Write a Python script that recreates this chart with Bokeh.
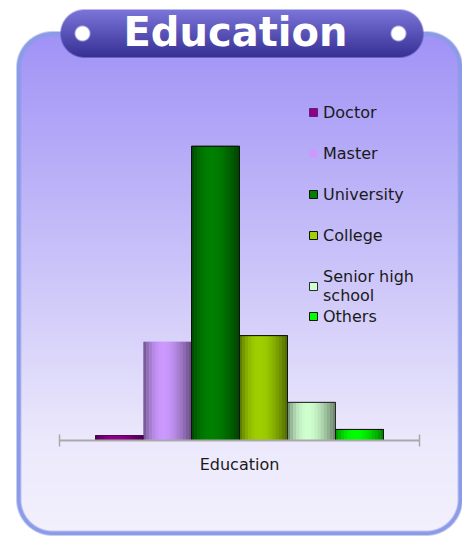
import numpy as np
from bokeh.plotting import figure
from bokeh.models import (Range1d, LinearAxis, FixedTicker, Legend, LegendItem,
                          Label, ColumnDataSource)
from bokeh.embed import file_html
from bokeh.resources import INLINE

# ---------------- data ----------------
categories = ["Doctor", "Master", "University", "College", "Senior high school", "Others"]
legend_labels = ["Doctor", "Master", "University", "College", "Senior high\nschool", "Others"]
shares = [0.9, 17.9, 53.3, 19.0, 6.9, 2.0]
bar_colors = ["#8c008c", "#cc99ff", "#008000", "#a0d000", "#d0ffd0", "#00ff00"]
outline_colors = ["#3a003a", "#6a5890", "#111111", "#111111", "#2a2a2a", "#111111"]
outline_alpha = [0.6, 0.0, 1.0, 1.0, 1.0, 1.0]
axis_title = "Education"
chart_title = "Education"

# ---------------- layout (pixels) ----------------
W, H = 462, 536
AXIS_PY = 440          # pixel row of the value axis baseline
BAR_PX = 48            # bar width in pixels
FIRST_BAR_PX = 119     # centre of first bar
PX_PER_UNIT = 5.52     # vertical pixels per percent
AXIS_PAD = 0.75        # axis extension beyond bars (bar widths)
N_STRIPS = 16

x0 = -FIRST_BAR_PX / BAR_PX
x1 = (W - FIRST_BAR_PX) / BAR_PX
y0 = -(H - AXIS_PY) / PX_PER_UNIT
y1 = AXIS_PY / PX_PER_UNIT

p = figure(width=W, height=H, output_backend="svg", toolbar_location=None,
           x_range=Range1d(x0, x1), y_range=Range1d(y0, y1),
           x_axis_location=None, y_axis_location=None, min_border=0)
p.outline_line_color = None
p.grid.visible = False

# ---------------- decorative background (panel + title pill) ----------------
def rr_sdf(px, py, bx0, by0, bx1, by1, r):
    cx, cy = (bx0 + bx1) / 2, (by0 + by1) / 2
    hw, hh = (bx1 - bx0) / 2, (by1 - by0) / 2
    qx = np.abs(px - cx) - (hw - r)
    qy = np.abs(py - cy) - (hh - r)
    outside = np.hypot(np.maximum(qx, 0), np.maximum(qy, 0))
    inside = np.minimum(np.maximum(qx, qy), 0)
    return outside + inside - r

yy, xx = np.mgrid[0:H, 0:W].astype(float) + 0.5
img = np.ones((H, W, 3)) * 255.0

def over(img, color, alpha):
    a = alpha[..., None]
    return img * (1 - a) + color * a

# panel
d = rr_sdf(xx, yy, 16, 31, 462, 535, 36)
a_outer = np.clip(0.5 - d, 0, 1)
a_inner = np.clip(0.5 - (d + 4.5), 0, 1)
img = over(img, np.array([140, 155, 232.0]), a_outer)
top_c = np.array([161, 148, 246.0]); mid_c = np.array([236, 233, 252.0]); bot_c = np.array([243, 241, 253.0])
t = np.clip((yy - 40) / 400, 0, 1)[..., None]
t2 = np.clip((yy - 440) / 95, 0, 1)[..., None]
grad = np.where(yy[..., None] < 440, top_c + (mid_c - top_c) * t, mid_c + (bot_c - mid_c) * t2)
img = over(img, grad, a_inner)

# title pill
d = rr_sdf(xx, yy, 60, 9, 423, 57, 24)
a_p = np.clip(0.5 - d, 0, 1)
tp = np.clip((yy - 9) / 48, 0, 1)[..., None]
pill_top = np.array([124, 118, 219.0]); pill_bot = np.array([54, 48, 148.0])
img = over(img, pill_top + (pill_bot - pill_top) * tp, a_p)
for cx in (82, 398):
    dd = np.hypot(xx - cx, yy - 33) - 7.5
    img = over(img, np.array([255, 255, 255.0]), np.clip(0.5 - dd, 0, 1))

rgba = np.empty((H, W), dtype=np.uint32)
view = rgba.view(dtype=np.uint8).reshape((H, W, 4))
view[..., :3] = np.clip(img, 0, 255).astype(np.uint8)
view[..., 3] = 255
p.image_rgba(image=[rgba[::-1]], x=x0, y=y0, dw=x1 - x0, dh=y1 - y0)

# ---------------- bars ----------------
xs = list(range(len(categories)))
base_src = ColumnDataSource(dict(x=xs, top=shares, cat=categories, fill=bar_colors,
                                 line=outline_colors, la=outline_alpha))
base = p.vbar(x="x", top="top", bottom=0, width=1, source=base_src,
              fill_color="fill", line_color="line", line_alpha="la", line_width=1)

def hex2rgb(h):
    h = h.lstrip("#")
    return np.array([int(h[i:i + 2], 16) for i in (0, 2, 4)], dtype=float)

sx, stop, scol = [], [], []
for i, (v, c) in enumerate(zip(shares, bar_colors)):
    rgb = hex2rgb(c)
    for j in range(N_STRIPS):
        tt = (j + 0.5) / N_STRIPS
        f = 0.5 + 0.5 * np.sin(np.pi * tt ** 0.8)
        col = np.clip(rgb * f, 0, 255).astype(int)
        sx.append(i - 0.5 + tt)
        stop.append(v)
        scol.append("#%02x%02x%02x" % tuple(col))
strip_src = ColumnDataSource(dict(x=sx, top=stop, c=scol))
p.vbar(x="x", top="top", bottom=0, width=1.08 / N_STRIPS, source=strip_src,
       fill_color="c", line_color=None)
p.vbar(x="x", top="top", bottom=0, width=1, source=base_src,
       fill_color=None, line_color="line", line_alpha="la", line_width=1)

# ---------------- axis ----------------
lo, hi = -0.5 - AXIS_PAD, len(categories) - 0.5 + AXIS_PAD
ax = LinearAxis(fixed_location=0, bounds=(lo, hi), ticker=FixedTicker(ticks=[lo, hi]),
                axis_label=axis_title)
ax.major_label_overrides = {lo: "", hi: ""}
ax.major_label_standoff = 0
ax.minor_tick_line_color = None
ax.major_tick_in = 6
ax.major_tick_out = 6
ax.axis_line_color = "#a9a9a9"
ax.axis_line_width = 2
ax.major_tick_line_color = "#a9a9a9"
ax.major_tick_line_width = 1.5
ax.axis_label_text_font = "DejaVu Sans"
ax.axis_label_text_font_size = "16px"
ax.axis_label_text_font_style = "normal"
ax.axis_label_text_color = "#1a1a1a"
ax.axis_label_standoff = 8
p.add_layout(ax, "below")

# ---------------- legends ----------------
def make_legend(idx):
    items = [LegendItem(label=legend_labels[i], renderers=[base], index=i) for i in idx]
    lg = Legend(items=items, padding=0, margin=0, spacing=21, label_standoff=5,
                glyph_width=10, glyph_height=10, label_height=20,
                label_text_font="DejaVu Sans", label_text_font_size="16px",
                label_text_color="#1a1a1a", border_line_color=None,
                background_fill_alpha=0, click_policy="none")
    return lg

lgA = make_legend([0, 1, 2, 3])
lgA.location = (308, H - (102 + 4 * 20 + 3 * 21))
lgB = make_legend([4])
lgB.location = (308, H - (265 + 40))
lgC = make_legend([5])
lgC.location = (308, H - (306 + 20))
for lg in (lgA, lgB, lgC):
    p.add_layout(lg)

# ---------------- title ----------------
p.add_layout(Label(x=235, y=H - 31, x_units="screen", y_units="screen", text=chart_title,
                   text_font="DejaVu Sans", text_font_style="bold", text_font_size="40px",
                   text_color="white", text_align="center", text_baseline="alphabetic"))

open("out.html", "w").write(file_html(p, INLINE))
